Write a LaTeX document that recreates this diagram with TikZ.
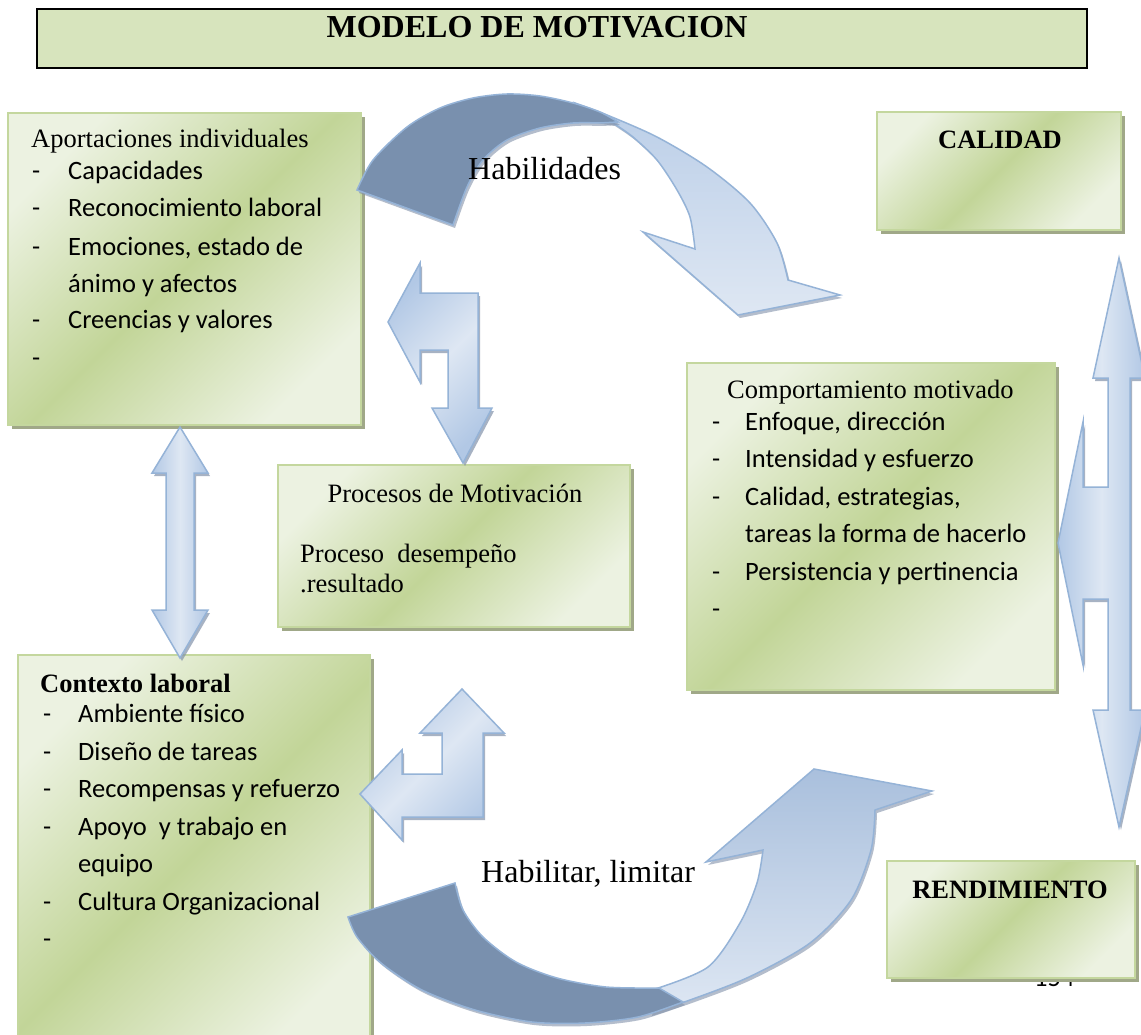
\documentclass[tikz,border=0pt]{standalone}
\usepackage{fontspec}
\setmainfont{Liberation Serif}
\newfontfamily\calib{Carlito}
\usetikzlibrary{shadows}
\definecolor{titlegreen}{RGB}{215,228,189}
\definecolor{boxgreen}{RGB}{194,213,152}
\definecolor{boxlight}{RGB}{236,242,225}
\definecolor{boxborder}{RGB}{196,215,158}
\definecolor{boxshadow}{RGB}{160,168,136}
\definecolor{aborder}{RGB}{149,179,215}
\definecolor{ablue}{RGB}{178,200,229}
\definecolor{alight}{RGB}{222,231,243}
\definecolor{adark}{RGB}{121,144,174}
\definecolor{ashadow}{RGB}{130,146,170}
\tikzset{
 greenbox/.style={draw=boxborder, line width=1.5pt, top color=boxlight, bottom color=boxlight,
   middle color=boxgreen, shading angle=45,
   drop shadow={shadow xshift=4pt, shadow yshift=-4pt, fill=boxshadow, opacity=1},
   anchor=north west, inner sep=0pt, outer sep=0pt},
 barrow/.style={draw=aborder, line width=1.5pt, line join=miter, left color=ablue, right color=ablue,
   middle color=alight, drop shadow={shadow xshift=2pt, shadow yshift=-3pt, fill=ashadow, opacity=0.7}},
 bentarrow/.style={barrow, shading angle=45},
 darkpart/.style={draw=aborder, line width=1.5pt, fill=adark,
   drop shadow={shadow xshift=2pt, shadow yshift=-3pt, fill=ashadow, opacity=0.6}},
 toplight/.style={draw=aborder, line width=1.5pt, top color=ablue!80!alight, bottom color=alight,
   drop shadow={shadow xshift=2pt, shadow yshift=-3pt, fill=ashadow, opacity=0.6}},
 botlight/.style={draw=aborder, line width=1.5pt, top color=ablue!85!adark, bottom color=alight,
   drop shadow={shadow xshift=2pt, shadow yshift=-3pt, fill=ashadow, opacity=0.6}},
 itm/.style={font=\calib\fontsize{26.5}{30}\selectfont, anchor=base west, inner sep=0pt},
 ser/.style={font=\fontsize{26.5}{30}\selectfont, anchor=base west, inner sep=0pt},
 serb/.style={font=\bfseries\fontsize{26.5}{30}\selectfont, inner sep=0pt},
 big/.style={font=\fontsize{32}{36}\selectfont, anchor=base west, inner sep=0pt}
}
\begin{document}
\begin{tikzpicture}[x=1pt,y=-1pt]
\useasboundingbox (0,0) rectangle (1141,1035);
\fill[white] (0,0) rectangle (1141,1035);

% title
\node[draw=black, line width=2pt, fill=titlegreen, anchor=north west, inner sep=0pt,
  minimum width=1050pt, minimum height=59pt] (title) at (36,8) {};
\node[font=\bfseries\fontsize{32}{36}\selectfont, anchor=base, inner sep=0pt] (titletext) at (537,38) {MODELO DE MOTIVACION};

% page number hidden behind box
\node[itm] (pagenum) at (1034,986) {154};

% boxes
\node[greenbox, minimum width=353pt, minimum height=312pt] (A) at (8,113) {};
\node[greenbox, minimum width=352pt, minimum height=400pt] (B) at (18,655) {};
\node[greenbox, minimum width=352pt, minimum height=162pt] (P) at (278,465) {};
\node[greenbox, minimum width=368pt, minimum height=327pt] (C) at (687,363) {};
\node[greenbox, minimum width=244pt, minimum height=118pt] (CAL) at (877,112) {};
\node[greenbox, minimum width=248pt, minimum height=117pt] (REN) at (887,861) {};

% box A text
\node[ser] (a0) at (31,148) {Aportaciones individuales};
\node[itm] (a1d) at (32,180) {-}; \node[itm] (a1) at (68,180) {Capacidades};
\node[itm] (a2d) at (32,217) {-}; \node[itm] (a2) at (68,217) {Reconocimiento laboral};
\node[itm] (a3d) at (32,255) {-}; \node[itm] (a3) at (68,255) {Emociones, estado de};
\node[itm] (a4) at (68,292) {ánimo y afectos};
\node[itm] (a5d) at (32,328) {-}; \node[itm] (a5) at (68,328) {Creencias y valores};
\node[itm] (a6d) at (32,366) {-};

% box B text
\node[serb, anchor=base west] (b0) at (40,692) {Contexto laboral};
\node[itm] (b1d) at (43,722) {-}; \node[itm] (b1) at (78,722) {Ambiente físico};
\node[itm] (b2d) at (43,760) {-}; \node[itm] (b2) at (78,760) {Diseño de tareas};
\node[itm] (b3d) at (43,797) {-}; \node[itm] (b3) at (78,797) {Recompensas y refuerzo};
\node[itm] (b4d) at (43,835) {-}; \node[itm] (b4) at (78,835) {Apoyo\ \ y trabajo en};
\node[itm] (b5) at (78,872) {equipo};
\node[itm] (b6d) at (43,910) {-}; \node[itm] (b6) at (78,910) {Cultura Organizacional};
\node[itm] (b7d) at (43,947) {-};

% box P text
\node[ser, anchor=base] (p0) at (455,502) {Procesos de Motivación};
\node[ser] (p1) at (300,562) {Proceso\ \ desempeño};
\node[ser] (p2) at (300,592) {.resultado};

% box C text
\node[ser] (c0) at (727,398) {Comportamiento motivado};
\node[itm] (c1d) at (712,430) {-}; \node[itm] (c1) at (745,430) {Enfoque, dirección};
\node[itm] (c2d) at (712,467) {-}; \node[itm] (c2) at (745,467) {Intensidad y esfuerzo};
\node[itm] (c3d) at (712,505) {-}; \node[itm] (c3) at (745,505) {Calidad, estrategias,};
\node[itm] (c4) at (745,542) {tareas la forma de hacerlo};
\node[itm] (c5d) at (712,580) {-}; \node[itm] (c5) at (745,580) {Persistencia y pertinencia};
\node[itm] (c6d) at (712,617) {-};

% CALIDAD / RENDIMIENTO
\node[serb, anchor=base] (cal) at (1000,149) {CALIDAD};
\node[serb, anchor=base] (ren) at (1010,898) {RENDIMIENTO};

% left double arrow A <-> B
\path[barrow] (180,427) -- (208,473) -- (194,473) -- (194,610) -- (208,610) -- (180,658)
  -- (152,610) -- (166,610) -- (166,473) -- (152,473) -- cycle;

% upper bent arrow (left and down)
\path[bentarrow] (388,322) -- (420,263) -- (420,293) -- (478,293) -- (478,408) -- (492,408)
  -- (463,463) -- (432,408) -- (448,408) -- (448,350) -- (420,350) -- (420,382) -- cycle;

% lower bent arrow (up and left)
\path[bentarrow] (462,689) -- (504,733) -- (483,733) -- (483,817) -- (402,817) -- (402,840)
  -- (360,794) -- (402,750) -- (402,774) -- (442,774) -- (442,733) -- (420,733) -- cycle;

% right three-way arrow
\path[barrow] (1119,258) -- (1145,378) -- (1130,378) -- (1130,710) -- (1145,710) -- (1119,827)
  -- (1093,710) -- (1108,710) -- (1108,599) -- (1083,599) -- (1083,665) -- (1058,543)
  -- (1083,422) -- (1083,487) -- (1108,487) -- (1108,378) -- (1093,378) -- cycle;

% top curved arrow
\path[toplight] plot[smooth] coordinates {(575,103) (607,115) (657,137) (707,167) (750,203) (777,243) (788,280)}
  -- (840,295) -- (738,315) -- (643,232) -- (695,249)
  -- plot[smooth] coordinates {(695,249) (690,217) (677,190) (657,160) (633,137) (613,123)}
  -- (588,119) -- cycle;
\path[darkpart] plot[smooth] coordinates {(357,190) (373,160) (407,127) (440,108) (473,98) (507,94) (540,96) (573,103) (600,112) (618,122)}
  -- plot[smooth] coordinates {(600,123) (573,123) (540,128) (507,140) (483,160) (467,187) (453,225)}
  -- cycle;

% bottom curved arrow
\path[botlight] plot[smooth] coordinates {(655,989) (708,967) (740,923) (757,883) (763,850)}
  -- (706,862) -- (814,769) -- (932,791) -- (875,810)
  -- plot[smooth] coordinates {(875,810) (871,850) (851,900) (810,943) (749,977) (690,1000) (650,1013)}
  -- cycle;
\path[darkpart] plot[smooth] coordinates {(348,917) (357,937) (381,963) (422,990) (475,1010) (532,1022) (585,1023) (638,1017) (683,1002)}
  -- plot[smooth] coordinates {(659,988) (606,987) (557,978) (516,962) (483,937) (463,910) (455,883)}
  -- cycle;

% arrow labels
\node[big] (hab) at (468,180) {Habilidades};
\node[big] (lim) at (481,882) {Habilitar, limitar};
\end{tikzpicture}
\end{document}
